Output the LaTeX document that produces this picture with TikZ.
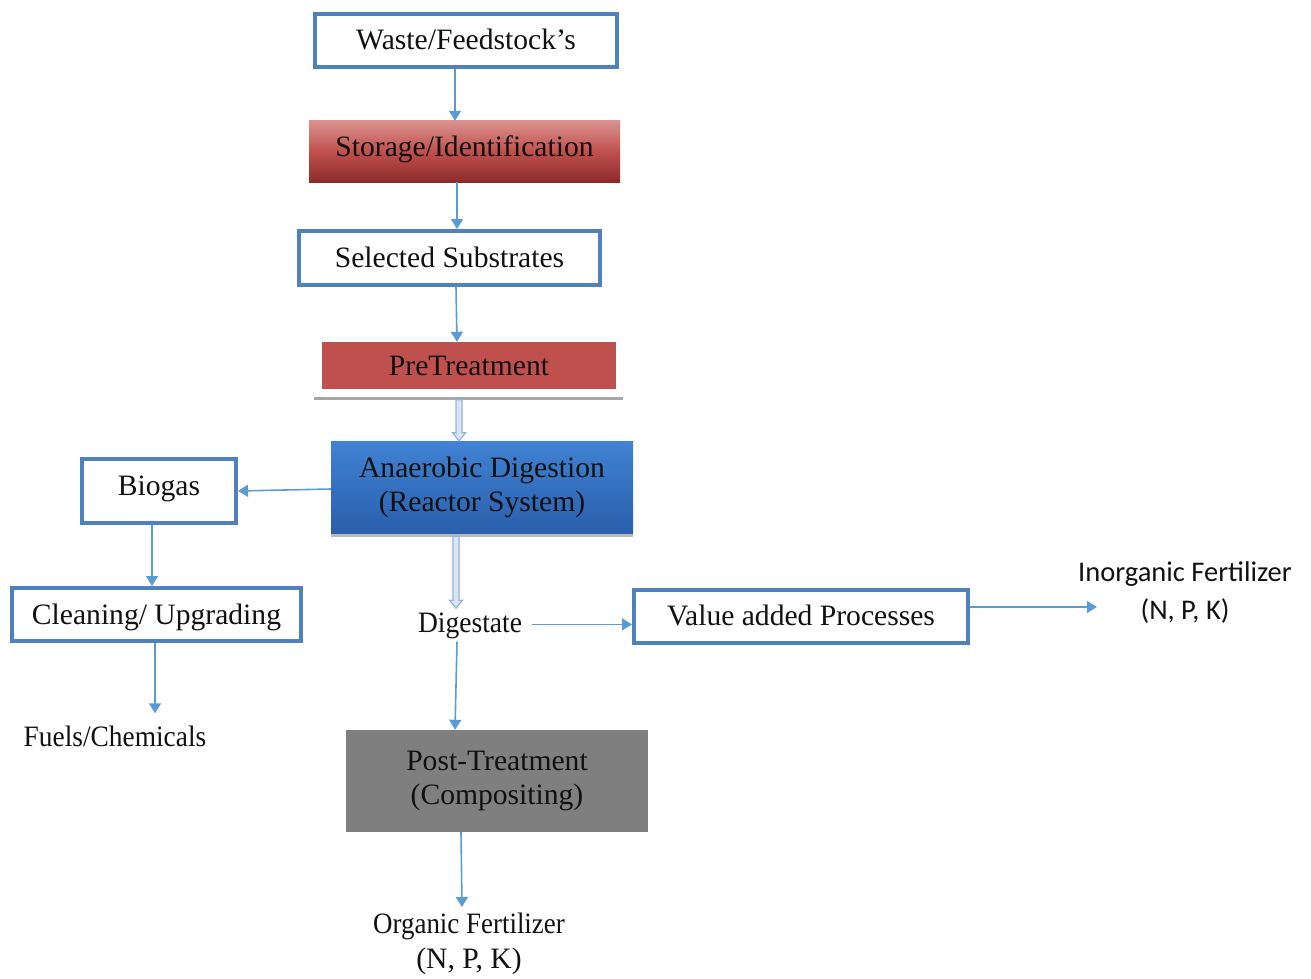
\documentclass[tikz,border=0pt]{standalone}
\usepackage{fontspec}
\setmainfont{Liberation Serif}
\newfontfamily\calib{Carlito}
\usetikzlibrary{arrows.meta,calc,shadows}
\definecolor{boxblue}{HTML}{4F81BD}
\definecolor{arrblue}{HTML}{5B9BD5}
\definecolor{redmid}{HTML}{C0504D}
\definecolor{redtop}{HTML}{DA9290}
\definecolor{redbot}{HTML}{8C2A28}
\definecolor{adtop}{HTML}{4082D3}
\definecolor{adbot}{HTML}{2A5FAD}
\definecolor{postgray}{HTML}{7F7F7F}
\definecolor{hollowline}{HTML}{8DB3E2}
\definecolor{hollowfill}{HTML}{DBE5F1}
\definecolor{txtcol}{HTML}{111111}
\newcommand\mfont{\fontsize{29.6}{34}\selectfont}
\newcommand\hollowdown[2]{%
  \path (#1) coordinate (ha) (#2) coordinate (hb);
  \draw[hollowarr] ($(ha)+(-3,0)$) -- ($(hb)+(-3,-8)$) -- ($(hb)+(-6.5,-8)$) -- (hb)
    -- ($(hb)+(6.5,-8)$) -- ($(hb)+(3,-8)$) -- ($(ha)+(3,0)$) -- cycle;}
\tikzset{
  bbox/.style={draw=boxblue, line width=4pt, fill=white, font=\mfont, text=txtcol,
    inner sep=0pt, text height=20pt, text depth=0pt},
  fbox/.style={font=\mfont, text=txtcol, inner sep=0pt, text height=20pt, text depth=0pt},
  txt/.style={font=\mfont, text=txtcol, inner sep=0pt},
  arr/.style={draw=arrblue, line width=1.6pt, -{Triangle[length=10pt,width=12pt]}},
  hollowarr/.style={draw=hollowline, fill=hollowfill, line width=1.2pt, line join=miter},
}
\begin{document}
\begin{tikzpicture}[x=1pt,y=-1pt]
\useasboundingbox (0,0) rectangle (1311,979);
% boxes
\node[bbox, minimum width=302, minimum height=53, text depth=1pt] (waste) at (466,40.5) {Waste/Feedstock's};
\node[fbox, minimum width=311, minimum height=61, top color=redtop, bottom color=redbot,
  middle color=redmid, text depth=9pt] (stor) at (464.5,151.5) {Storage/Identification};
\node[bbox, minimum width=301, minimum height=54, text depth=2pt] (sel) at (449.5,258) {Selected Substrates};
\node[fbox, minimum width=294, minimum height=47, fill=redmid] (pre) at (469,365.5) {PreTreatment};
\draw[line width=3pt, draw=black!35] (314,398) coordinate (gl0) -- (623,398) coordinate (gl1);
\node[fbox, minimum width=302, minimum height=92, top color=adtop, bottom color=adbot,
  align=center, text height=, text depth=,
  drop shadow={shadow xshift=0pt, shadow yshift=-4pt, opacity=0.45, fill=black!60}]
  (ad) at (482,487) {Anaerobic Digestion\\(Reactor System)};
\node[bbox, minimum width=154, minimum height=64, text depth=12pt] (bio) at (159,491) {Biogas};
\node[bbox, minimum width=289, minimum height=53] (clean) at (156.5,614.5) {Cleaning/ Upgrading};
\node[txt, anchor=base] (fuels) at (115,746) {\scalebox{0.925}[1]{Fuels/Chemicals}};
\node[txt, anchor=base] (dig) at (470,632) {\scalebox{0.93}[1]{Digestate}};
\node[bbox, minimum width=334, minimum height=53, text depth=3pt] (val) at (801,616.5) {Value added Processes};
\node[txt, font=\calib\fontsize{28.5}{38}\selectfont, align=center, anchor=north] (inorg) at (1185,562)
  {Inorganic Fertilizer\\(N, P, K)};
\node[fbox, minimum width=302, minimum height=102, fill=postgray, align=center,
  text height=, text depth=] (post) at (497,781) {Post-Treatment\\(Compositing)};
\node[txt, align=center, anchor=north, font=\fontsize{29.6}{35}\selectfont] (org) at (469,913)
  {\scalebox{0.91}[1]{Organic Fertilizer}\\(N, P, K)};
% connectors
\draw[arr] ($(waste.south)+(-11,0)$) -- ($(stor.north)+(-9.5,0)$);
\draw[arr] ($(stor.south)+(-7.5,0)$) -- ($(sel.north)+(7.5,0)$);
\draw[arr] ($(sel.south)+(6.5,0)$) -- ($(pre.north)+(-12,0)$);
\hollowdown{$(ad.north)+(-23,-41)$}{$(ad.north)+(-23,0)$}
\draw[arr] ($(ad.west)+(0,2)$) -- ($(bio.east)+(0,0)$);
\draw[arr] ($(bio.south)+(-7,0)$) -- ($(clean.north)+(-4.5,0)$);
\draw[arr] ($(clean.south)+(-1.5,0)$) -- ($(fuels.north)+(40,-12)$);
\hollowdown{$(ad.south)+(-26,3)$}{$(ad.south)+(-26,75)$}
\coordinate (de) at ($(dig.east)+(10,-1)$);
\draw[arr] (de) -- (de -| val.west);
\coordinate (ve) at ($(val.east)+(0,-9.5)$);
\draw[arr] (ve) -- ($(ve -| inorg.west)+(19,0)$);
\draw[arr] ($(dig.south)+(-13,3)$) -- ($(post.north)+(-42,0)$);
\draw[arr] ($(post.south)+(-36,0)$) -- ($(org.north)+(-7,-6)$);
\end{tikzpicture}
\end{document}
